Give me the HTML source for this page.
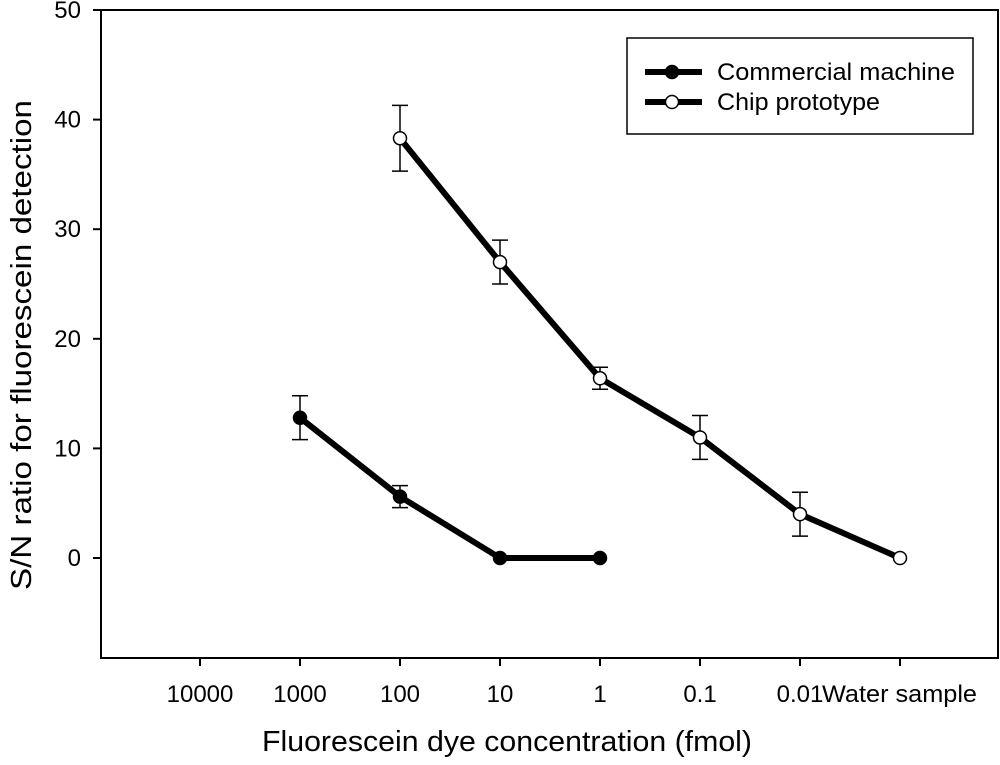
<!DOCTYPE html>
<html><head><meta charset="utf-8"><style>
body{margin:0;background:#fff}
svg text{font-family:"Liberation Sans",Arial,sans-serif;fill:#000}
</style></head><body>
<svg id="chart" width="1000" height="760"></svg>
<script>
const categories=["10000","1000","100","10","1","0.1","0.01","Water sample"];
const yTicks=[0,10,20,30,40,50];
const commIdx=[1,2,3,4];
const commVals=[12.8,5.6,0,0];
const commErr=[2.0,1.0,0,0];
const chipIdx=[2,3,4,5,6,7];
const chipVals=[38.3,27.0,16.4,11.0,4.0,0];
const chipErr=[3.0,2.0,1.0,2.0,2.0,0];
const L=101,R=998,T=10,B=658;
const xs=i=>200+i*100;
const ys=v=>558-(v*(548/50));
const svg=document.getElementById('chart');
const NS='http://www.w3.org/2000/svg';
function mk(t,a,p){const e=document.createElementNS(NS,t);for(const k in a)e.setAttribute(k,a[k]);(p||svg).appendChild(e);return e;}
let e;
e=mk('path',{d:`M${L},${T}H${R}V${B}H${L}Z`,fill:'none',stroke:'#000','stroke-width':2});


yTicks.forEach(v=>{
 e=mk('line',{x1:L-8,x2:L,y1:ys(v),y2:ys(v),stroke:'#000','stroke-width':2});
 
 
 e=mk('text',{x:L-20,y:ys(v)+8,'text-anchor':'end','font-size':24});e.textContent=v;
 
 
});
categories.forEach((c,i)=>{
 e=mk('line',{x1:xs(i),x2:xs(i),y1:B,y2:B+8,stroke:'#000','stroke-width':2});
 
 
 const last=i===categories.length-1;
 e=mk('text',{x:last?822:xs(i),y:702,'text-anchor':last?'start':'middle','font-size':24});e.textContent=c;
 if(last){e.setAttribute('textLength',155);e.setAttribute('lengthAdjust','spacingAndGlyphs');}
 
 
});
e=mk('text',{x:507,y:751,'text-anchor':'middle','font-size':29,textLength:490,lengthAdjust:'spacingAndGlyphs'});e.textContent='Fluorescein dye concentration (fmol)';


e=mk('text',{x:0,y:0,'text-anchor':'middle','font-size':29,textLength:490,lengthAdjust:'spacingAndGlyphs',transform:'translate(31,345) rotate(-90)'});e.textContent='S/N ratio for fluorescein detection';


function series(idx,vals,err,fill,name){
 const g=mk('g',{});
 
 
 idx.forEach((k,j)=>{if(err[j]>0){const x=xs(k),y1=ys(vals[j]-err[j]),y2=ys(vals[j]+err[j]);
  e=mk('path',{d:`M${x},${y1}V${y2}M${x-8},${y1}H${x+8}M${x-8},${y2}H${x+8}`,stroke:'#000','stroke-width':1.5,fill:'none'},g);
  
  }});
 e=mk('polyline',{points:idx.map((k,j)=>xs(k)+','+ys(vals[j])).join(' '),fill:'none',stroke:'#000','stroke-width':6,'stroke-linejoin':'round'},g);
 
 
 idx.forEach((k,j)=>{e=mk('circle',{cx:xs(k),cy:ys(vals[j]),r:6.5,fill:fill,stroke:'#000','stroke-width':1.5},g);
  
  });
}
series(commIdx,commVals,commErr,'#000','series-commercial');
series(chipIdx,chipVals,chipErr,'#fff','series-chip');
const lg=mk('g',{});


mk('rect',{x:627,y:38,width:346,height:96,fill:'#fff',stroke:'#000','stroke-width':1.5},lg);
[['Commercial machine','#000',72,238],['Chip prototype','#fff',102,163]].forEach(([t,f,y,w])=>{
 const eg=mk('g',{},lg);
 
 
 mk('line',{x1:645,x2:702,y1:y,y2:y,stroke:'#000','stroke-width':6},eg);
 mk('circle',{cx:672,cy:y,r:6.5,fill:f,stroke:'#000','stroke-width':1.5},eg);
 const tx=mk('text',{x:717,y:y+8,'font-size':24,textLength:w,lengthAdjust:'spacingAndGlyphs'},eg);tx.textContent=t;
});
</script>
</body></html>
